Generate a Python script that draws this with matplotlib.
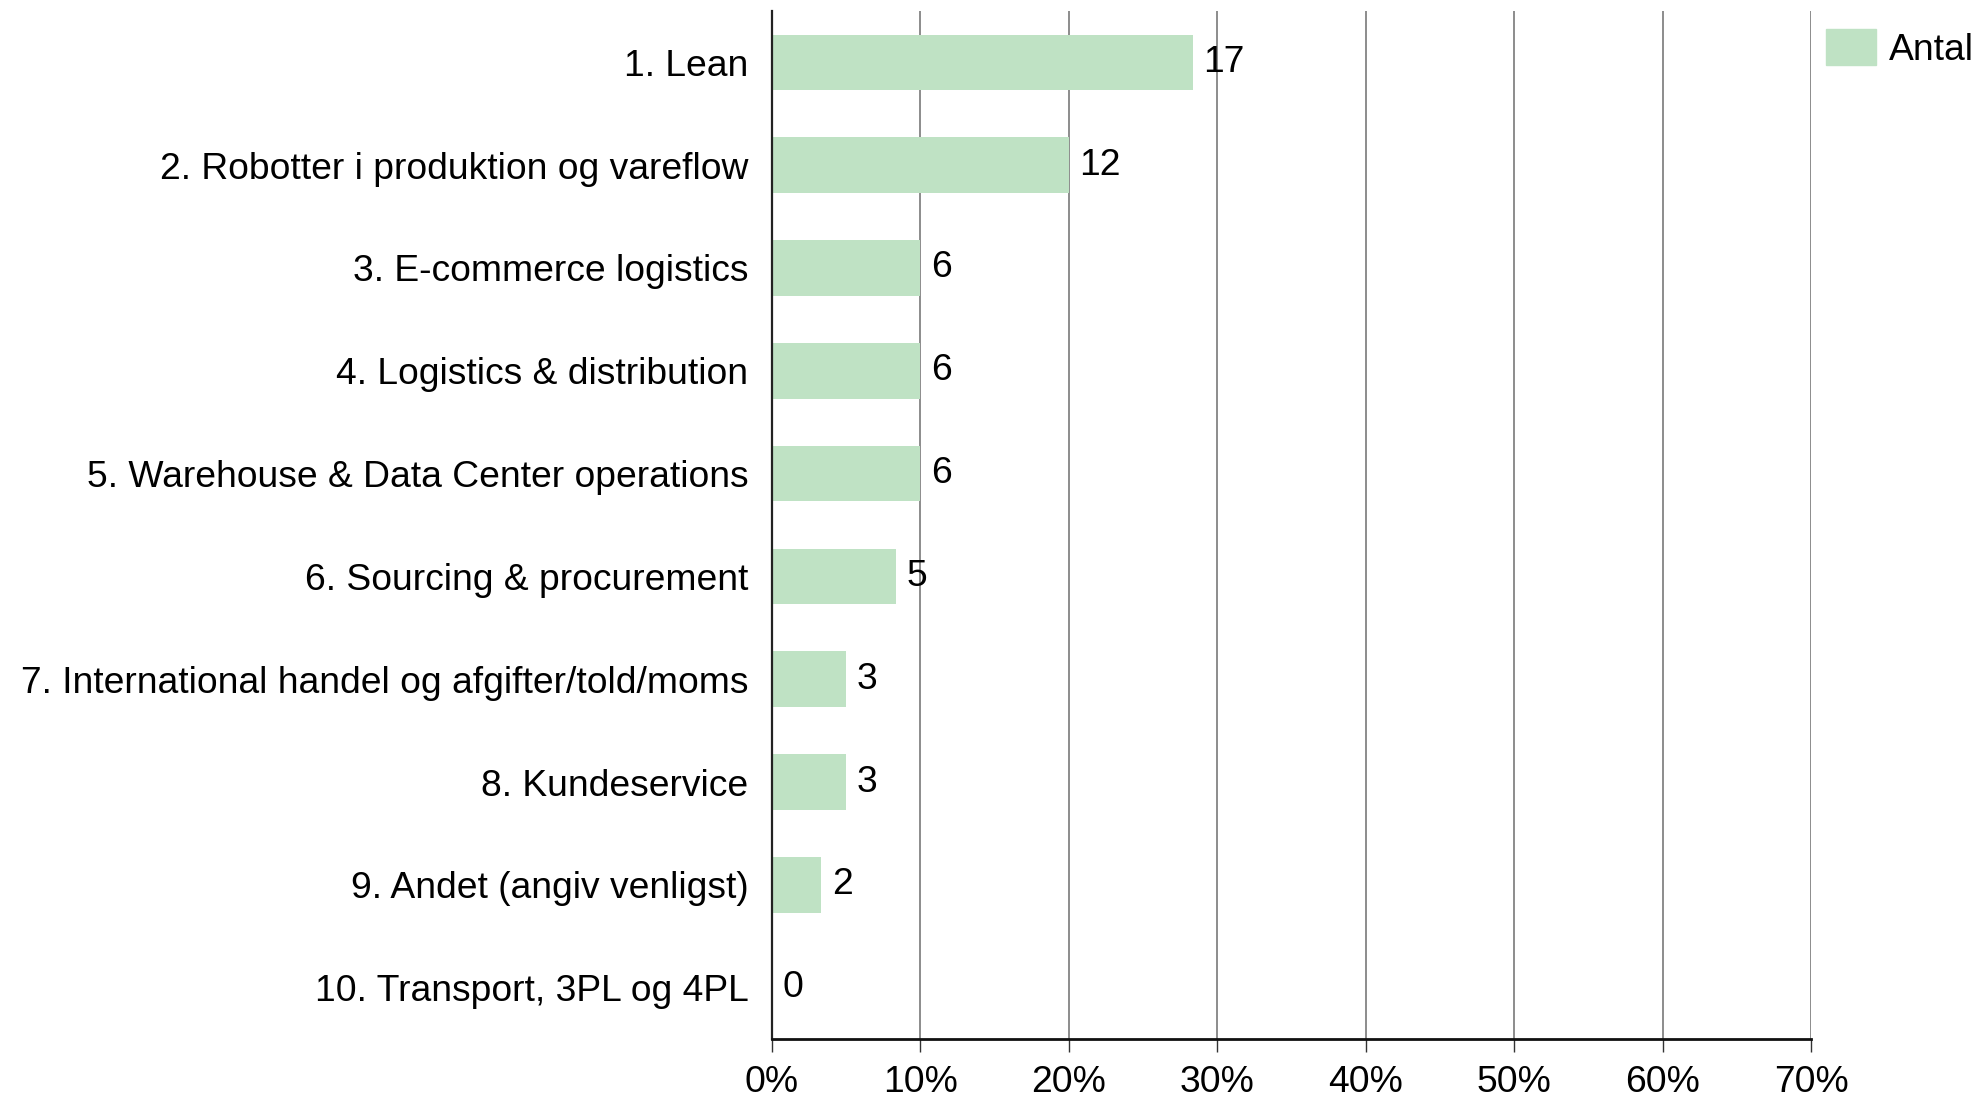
import matplotlib
matplotlib.use("Agg")
import matplotlib.pyplot as plt
from matplotlib.patches import Patch
from matplotlib.ticker import FuncFormatter

categories = [
    "1. Lean",
    "2. Robotter i produktion og vareflow",
    "3. E-commerce logistics",
    "4. Logistics & distribution",
    "5. Warehouse & Data Center operations",
    "6. Sourcing & procurement",
    "7. International handel og afgifter/told/moms",
    "8. Kundeservice",
    "9. Andet (angiv venligst)",
    "10. Transport, 3PL og 4PL",
]
antal = [17, 12, 6, 6, 6, 5, 3, 3, 2, 0]
x_ticks = [0, 10, 20, 30, 40, 50, 60, 70]

BAR_COLOR = "#bfe2c4"
FS = 26.8
plt.rcParams["font.family"] = ["Liberation Sans", "DejaVu Sans"]

total = sum(antal)
share = [100.0 * a / total for a in antal]
ypos = list(range(len(categories)))

fig = plt.figure(figsize=(19.86, 10.98), dpi=100)
ax = fig.add_axes([0.3887, 0.0537, 0.5232, 0.9363])

ax.barh(ypos, share, height=0.54, color=BAR_COLOR, zorder=2)
for y, s, a in zip(ypos, share, antal):
    ax.text(s + 0.7, y, str(a), va="center", ha="left", fontsize=FS, zorder=3)

ax.set_ylim(len(categories) - 0.5, -0.5)
ax.set_xlim(0, 70)
ax.set_yticks(ypos)
ax.set_yticklabels(categories, fontsize=FS)
ax.set_xticks(x_ticks)
ax.xaxis.set_major_formatter(FuncFormatter(lambda v, _: f"{v:.0f}%"))
ax.tick_params(axis="y", length=0, pad=17)
ax.tick_params(axis="x", length=9, width=1, color="#333333", pad=10, labelsize=FS)

ax.grid(axis="x", color="#8c8c8c", linewidth=1.4, zorder=1)
for side in ("top", "right"):
    ax.spines[side].set_visible(False)
ax.spines["left"].set_color("#222222")
ax.spines["left"].set_linewidth(1.6)
ax.spines["bottom"].set_color("#111111")
ax.spines["bottom"].set_linewidth(2.0)
ax.set_axisbelow(True)

fig.legend(handles=[Patch(color=BAR_COLOR, label="Antal")], loc="upper left",
           bbox_to_anchor=(0.912, 0.987), frameon=False, fontsize=FS,
           handlelength=1.35, handleheight=1.1, handletextpad=0.35, borderaxespad=0)

fig.savefig("out.png", dpi=100)
